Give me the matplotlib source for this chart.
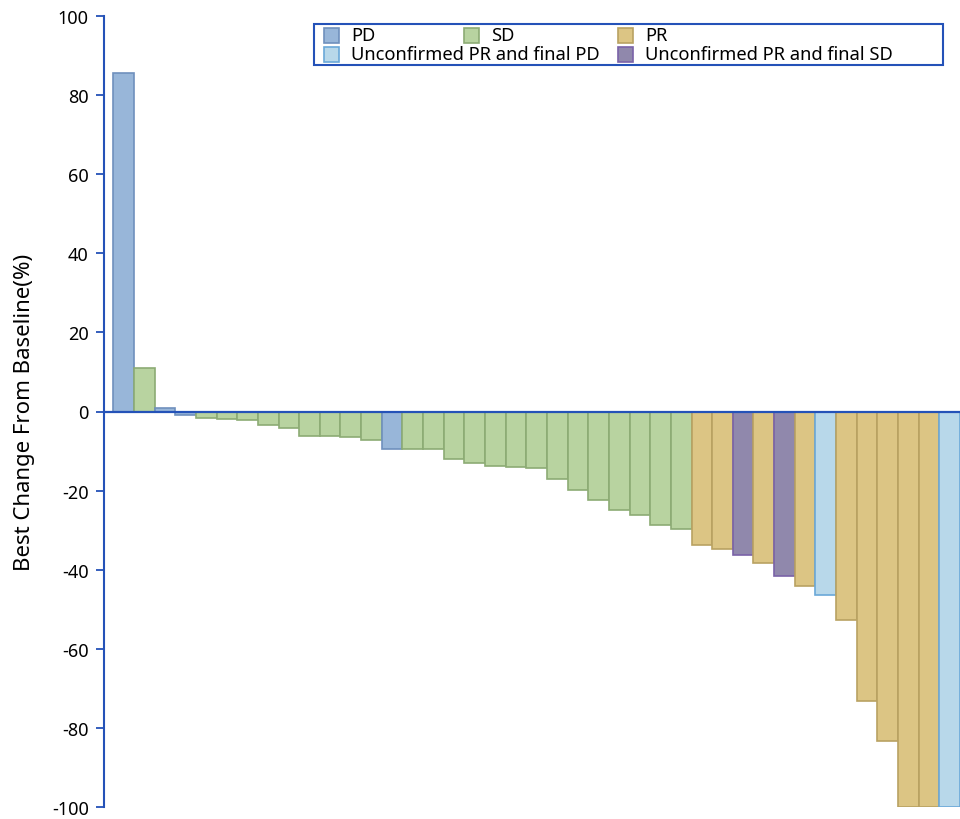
import matplotlib.pyplot as plt
from matplotlib.patches import Rectangle
import numpy as np

plt.rcParams['font.family'] = ['Noto Sans', 'DejaVu Sans']
plt.rcParams['axes.unicode_minus'] = False

# best percent change from baseline, one bar per patient (sorted)
changes = [85.7, 10.9, 1.0, -1.0, -1.6, -1.85, -2.2, -3.4, -4.2, -6.1,
           -6.3, -6.5, -7.3, -9.4, -9.4, -9.6, -11.9, -13.0, -13.9, -14.1,
           -14.3, -17.0, -19.8, -22.4, -25.0, -26.1, -28.7, -29.6, -33.8, -34.8,
           -36.2, -38.3, -41.6, -44.0, -46.3, -52.8, -73.2, -83.3, -100, -100,
           -100]
response = ['PD', 'SD', 'PD', 'PD', 'SD', 'SD', 'SD', 'SD', 'SD', 'SD',
            'SD', 'SD', 'SD', 'PD', 'SD', 'SD', 'SD', 'SD', 'SD', 'SD',
            'SD', 'SD', 'SD', 'SD', 'SD', 'SD', 'SD', 'SD', 'PR', 'PR',
            'uSD', 'PR', 'uSD', 'PR', 'uPD', 'PR', 'PR', 'PR', 'PR', 'PR',
            'uPD']

labels = {'PD': 'PD', 'SD': 'SD', 'PR': 'PR',
          'uPD': 'Unconfirmed PR and final PD',
          'uSD': 'Unconfirmed PR and final SD'}
fills = {'PD': '#98b6d9', 'SD': '#b8d3a0', 'PR': '#dcc584',
         'uPD': '#b8d8ea', 'uSD': '#9088ac'}
edges = {'PD': '#6f90bd', 'SD': '#8cab74', 'PR': '#b9a262',
         'uPD': '#6aa8d8', 'uSD': '#7a62a8'}

# legend grid: (row, column) of each entry
legend_rows = [['PD', 'SD', 'PR'], ['uPD', None, 'uSD']]

axis_blue = '#2452b8'
W, H = 960, 820

fig = plt.figure(figsize=(W / 100, H / 100), dpi=100)
ax = fig.add_axes([104 / W, 12 / H, 1 - 104 / W, 791 / H])

x = np.arange(len(changes))
ax.bar(x, changes, width=1.0,
       color=[fills[r] for r in response],
       edgecolor=[edges[r] for r in response], linewidth=1.2, zorder=2)
ax.axhline(0, color=axis_blue, linewidth=1.6, zorder=3)

ax.set_xlim(-0.95, 40.5)
ax.set_ylim(-100, 100)
ax.set_yticks(np.arange(-100, 101, 20))
ax.set_xticks([])
for side in ['top', 'right', 'bottom']:
    ax.spines[side].set_visible(False)
ax.spines['left'].set_color(axis_blue)
ax.spines['left'].set_linewidth(1.5)
ax.tick_params(axis='y', direction='out', length=6, width=1.3,
               color=axis_blue, labelsize=13, pad=5)
ax.set_ylabel('Best Change From Baseline(%)', fontsize=16, labelpad=12)


def px(xp, yp):
    # pixel position (from top-left) to figure fraction
    return xp / W, 1 - yp / H


# legend box drawn as a fixed grid so the long label can run under SD
x0, y0 = px(314, 66)
fig.patches.append(Rectangle((x0, y0), 629 / W, 41 / H, transform=fig.transFigure,
                             facecolor='white', edgecolor=axis_blue,
                             linewidth=1.5, zorder=5))
col_x = [324, 464, 618]
row_y = [36, 55.5]
for r, row in enumerate(legend_rows):
    for c, key in enumerate(row):
        if key is None:
            continue
        sx, sy = px(col_x[c], row_y[r] + 7.5)
        fig.patches.append(Rectangle((sx, sy), 15 / W, 15 / H,
                                     transform=fig.transFigure,
                                     facecolor=fills[key], edgecolor=edges[key],
                                     linewidth=1.2, zorder=6))
        tx, ty = px(col_x[c] + 27, row_y[r])
        fig.text(tx, ty, labels[key], fontsize=13.2, va='center', ha='left',
                 zorder=7)

fig.savefig('out.png', dpi=100)
